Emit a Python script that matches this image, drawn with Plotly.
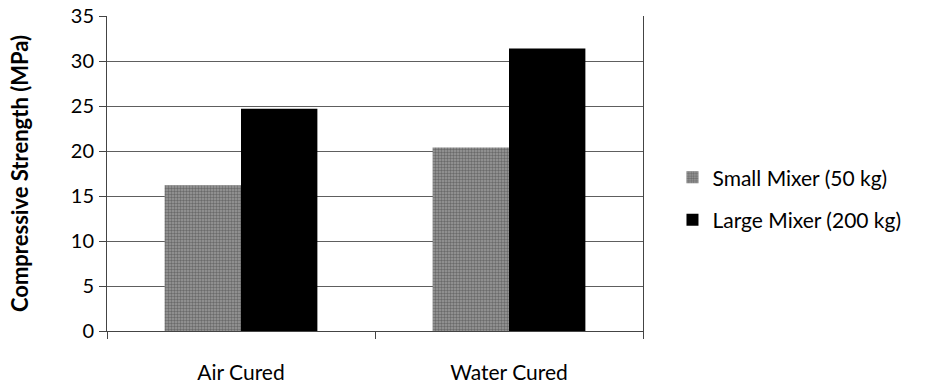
import plotly.graph_objects as go

categories = ["Air Cured", "Water Cured"]
small_mixer = [16.2, 20.4]
large_mixer = [24.7, 31.4]
series_names = ["Small Mixer (50 kg)", "Large Mixer (200 kg)"]
y_ticks = [0, 5, 10, 15, 20, 25, 30, 35]

FONT = "Lato, 'Open Sans', sans-serif"

fig = go.Figure()
fig.add_trace(go.Bar(
    x=categories, y=small_mixer, name=series_names[0], legendgroup="a",
    marker=dict(color="#8c8c8c", line=dict(width=0),
                pattern=dict(shape=".", fgcolor="#3a3a3a", bgcolor="#9a9a9a",
                             size=3, solidity=0.5)),
))
fig.add_trace(go.Bar(
    x=categories, y=large_mixer, name=series_names[1], legendgroup="b",
    marker=dict(color="#000000", line=dict(width=0)),
))

fig.update_layout(
    width=933, height=387,
    margin=dict(l=107, r=290, t=16, b=56),
    paper_bgcolor="white", plot_bgcolor="white",
    barmode="group", bargap=0.43, bargroupgap=0,
    font=dict(family=FONT, size=20, color="#000"),
    legend=dict(x=1.055, xanchor="left", y=0.42, yanchor="middle",
                font=dict(size=21), itemwidth=30, tracegroupgap=12,
                bgcolor="rgba(0,0,0,0)"),
    showlegend=True,
)
fig.update_xaxes(
    automargin=False,
    showline=True, linecolor="#444", linewidth=1,
    ticks="outside", tickson="boundaries", ticklen=7, tickcolor="#444",
    showgrid=False, tickfont=dict(size=21), ticklabelstandoff=23,
)
fig.update_yaxes(
    automargin=False,
    range=[0, 35], tickvals=y_ticks, ticks="outside", ticklen=7,
    tickcolor="#444", showline=True, linecolor="#444", linewidth=1, mirror=True,
    showgrid=True, gridcolor="#5e5e5e", gridwidth=1, zeroline=False,
    tickfont=dict(size=20), ticklabelstandoff=1,
    title=dict(text="<b>Compressive Strength (MPa)</b>", font=dict(size=22), standoff=36),
)

fig.write_html("out.html")
